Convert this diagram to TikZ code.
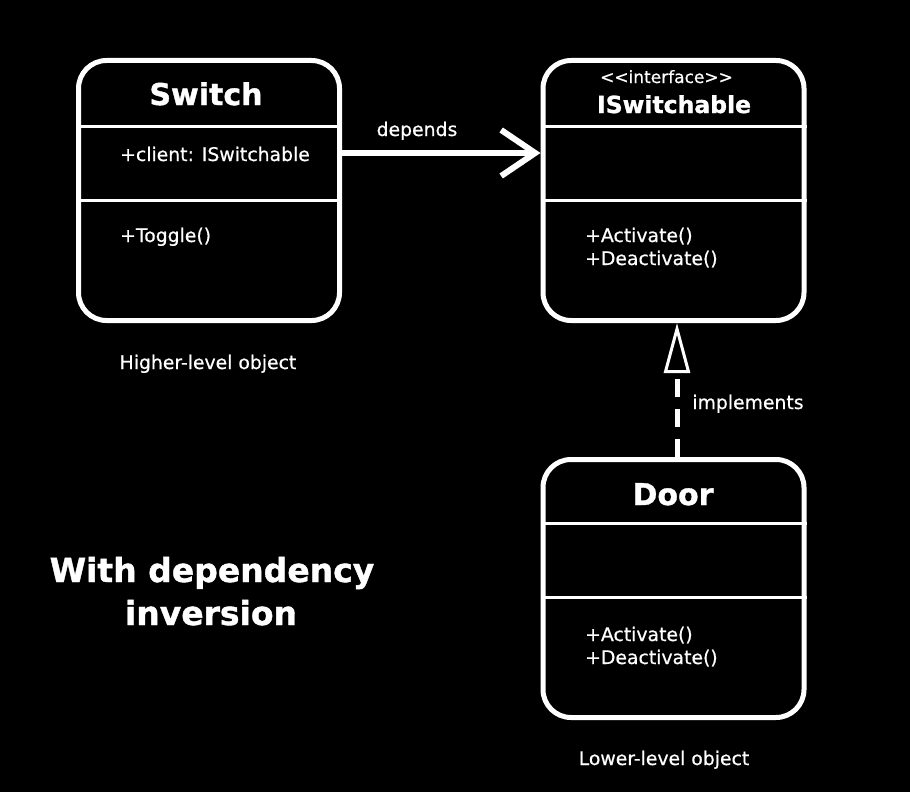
\documentclass[tikz,border=0pt]{standalone}
\usepackage{fontspec}
\setmainfont{DejaVu Sans}[FakeBold=0.6, BoldFeatures={FakeBold=1.2}]
\usetikzlibrary{arrows.meta}
\begin{document}
\begin{tikzpicture}[x=1pt,y=-1pt,
  classbox/.style={draw=white, line width=5pt, rounded corners=28pt, minimum width=261pt, minimum height=260pt, inner sep=0pt},
  divider/.style={draw=white, line width=3pt},
  member/.style={text=white, anchor=base west, inner sep=0pt, font=\fontsize{18.8}{22}\selectfont},
  ttl/.style={text=white, anchor=base, inner sep=0pt, font=\bfseries\fontsize{30}{34}\selectfont},
  txt/.style={text=white, anchor=base, inner sep=0pt, font=\fontsize{18.8}{22}\selectfont},
  conn/.style={draw=white, line width=6pt}]
\fill[black] (0,0) rectangle (910,792);
% boxes
\node[classbox] (sw) at (209,190.5) {};
\node[classbox] (isw) at (673.5,190.5) {};
\node[classbox, minimum height=258pt] (door) at (673.5,588.5) {};
% dividers
\draw[divider] (sw.west |- 0,126) -- (sw.east |- 0,126);
\draw[divider] (sw.west |- 0,200) -- (sw.east |- 0,200);
\draw[divider] (isw.west |- 0,126) -- (isw.east |- 0,126);
\draw[divider] (isw.west |- 0,200) -- (isw.east |- 0,200);
\draw[divider] (door.west |- 0,523) -- (door.east |- 0,523);
\draw[divider] (door.west |- 0,597) -- (door.east |- 0,597);
% Switch texts
\node[ttl] (swt) at (206,105) {Switch};
\node[member] (swa) at (120,161) {+client: ISwitchable};
\node[member] (swm) at (120,242) {+Toggle()};
% ISwitchable texts
\node[txt, font=\fontsize{17}{20}\selectfont] (iste) at (666.5,83) {<\kern0pt<interface>\kern0pt>};
\node[ttl, font=\bfseries\fontsize{23.5}{28}\selectfont] (ist) at (674,113) {ISwitchable};
\node[member] (ism1) at (585,242) {+Activate()};
\node[member] (ism2) at (585,265) {+Deactivate()};
% Door texts
\node[ttl] (dt) at (673,505) {Door};
\node[member] (dm1) at (585,641) {+Activate()};
\node[member] (dm2) at (585,664) {+Deactivate()};
% connectors
\draw[conn, -{Straight Barb[length=34pt,width=46pt,line width=6pt]}]
  ([yshift=37.5pt]sw.east) -- ([yshift=37.5pt]isw.west);
\node[txt] (dep) at (417,136) {depends};
\draw[draw=white, line width=5pt, dash pattern=on 18pt off 12pt,
  -{Triangle[open, length=50pt, width=26pt, line width=3pt]}]
  ([xshift=3.5pt]door.north) -- ([xshift=3.5pt]isw.south);
\node[txt] (impl) at (748,409) {implements};
% captions
\node[txt] (hl) at (208,369) {Higher-level object};
\node[txt] (ll) at (664,765) {Lower-level object};
\node[ttl, font=\bfseries\fontsize{33}{40}\selectfont] (h1) at (212,582) {With dependency};
\node[ttl, font=\bfseries\fontsize{33}{40}\selectfont] (h2) at (211,625) {inversion};
\end{tikzpicture}
\end{document}
